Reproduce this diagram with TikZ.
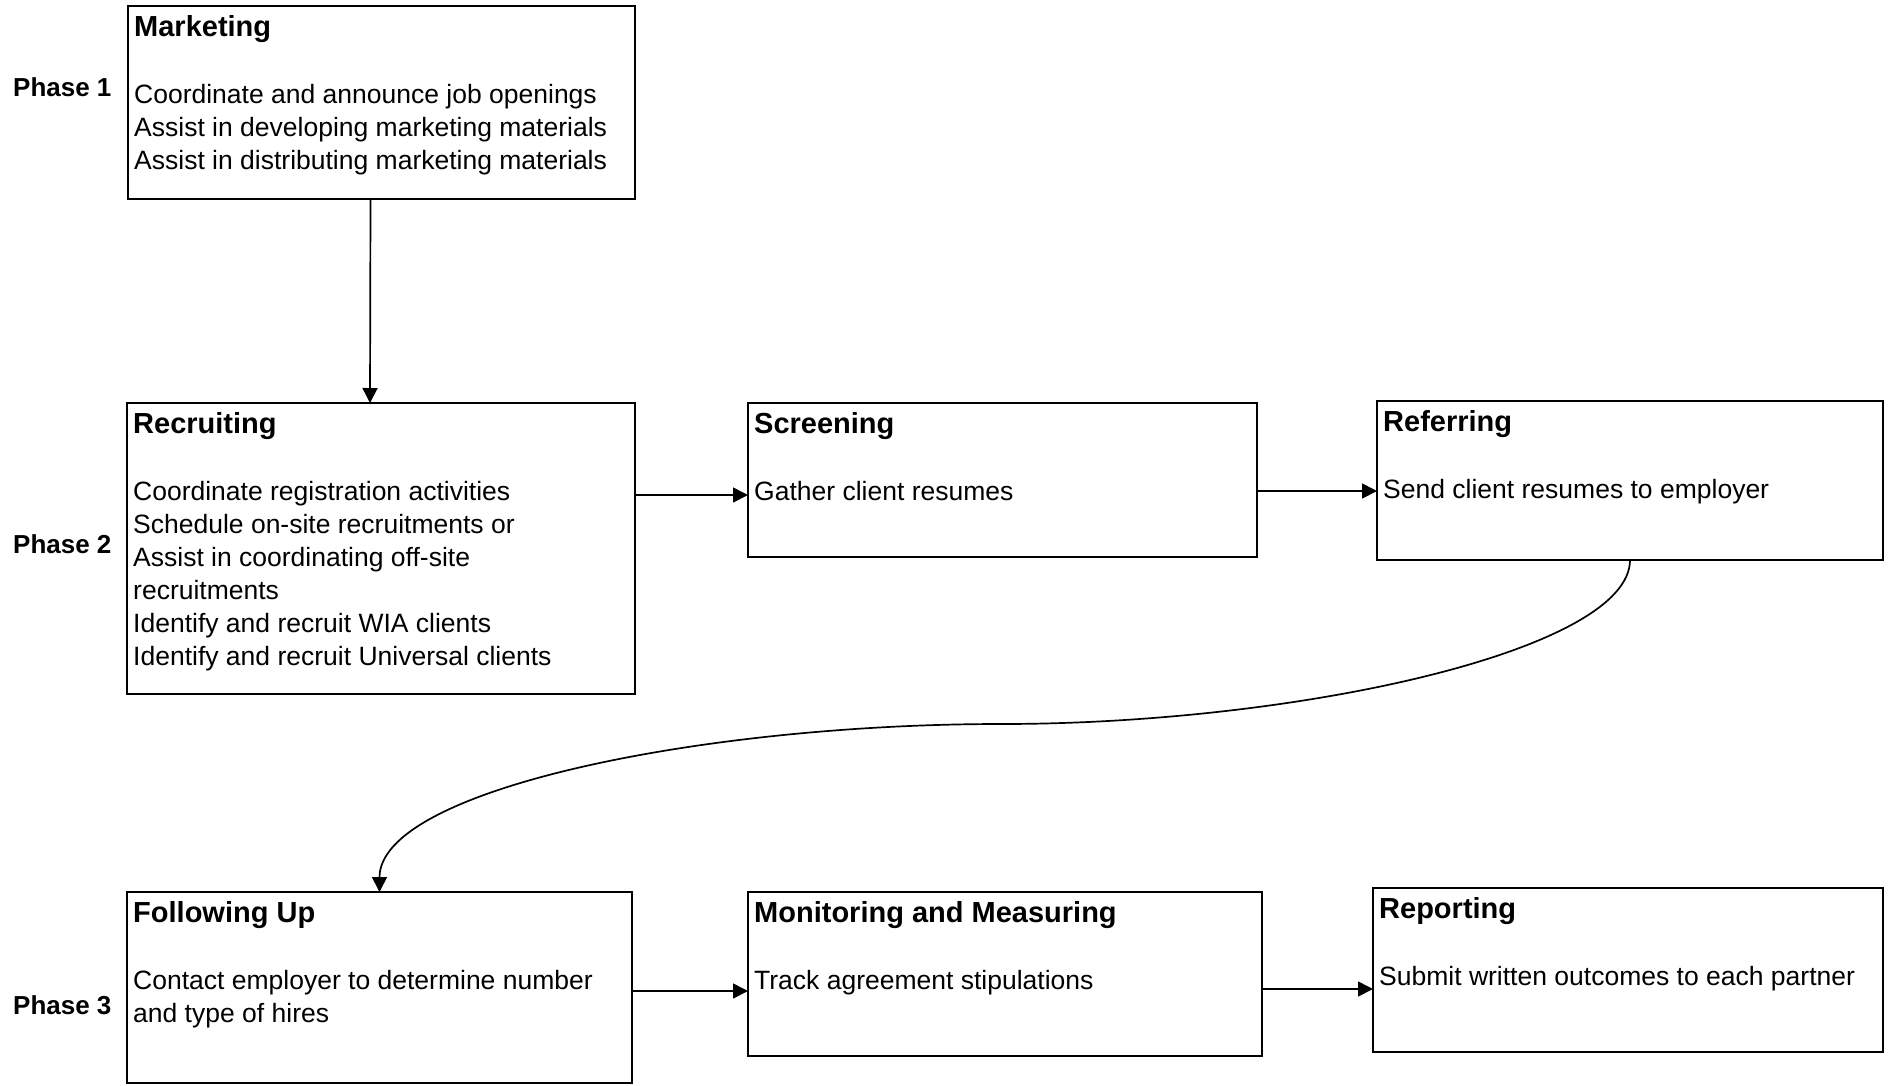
\documentclass[tikz,border=0pt]{standalone}
\usepackage{fontspec}
\setmainfont{Liberation Sans}
\usetikzlibrary{arrows.meta,calc}
\begin{document}
\begin{tikzpicture}[x=1pt,y=-1pt,
  box/.style={draw,line width=1.8pt,rectangle,inner sep=0pt,outer sep=0pt,anchor=north west},
  ttl/.style={anchor=base west,inner sep=0pt,font=\fontsize{29}{33}\selectfont\bfseries},
  body/.style={anchor=north west,inner sep=0pt,align=left,font=\fontsize{26.5}{33}\selectfont},
  phase/.style={anchor=base west,inner sep=0pt,font=\fontsize{26}{31}\selectfont\bfseries},
  conn/.style={line width=1.7pt,-{Triangle[length=15pt,width=15pt]}}]
\useasboundingbox (0,0) rectangle (1892,1085);

% boxes
\node[box,minimum width=507pt,minimum height=193pt] (mk) at (128,6) {};
\node[box,minimum width=508pt,minimum height=291pt] (rc) at (127,403) {};
\node[box,minimum width=509pt,minimum height=154pt] (sc) at (748,403) {};
\node[box,minimum width=506pt,minimum height=159pt] (rf) at (1377,401) {};
\node[box,minimum width=505pt,minimum height=191pt] (fu) at (127,892) {};
\node[box,minimum width=514pt,minimum height=164pt] (mo) at (748,892) {};
\node[box,minimum width=510pt,minimum height=164pt] (rp) at (1373,888) {};

% titles
\node[ttl] (mkt) at ($(mk.north west)+(6,30)$) {Marketing};
\node[ttl] (rct) at ($(rc.north west)+(6,30)$) {Recruiting};
\node[ttl] (sct) at ($(sc.north west)+(6,30)$) {Screening};
\node[ttl] (rft) at ($(rf.north west)+(6,30)$) {Referring};
\node[ttl] (fut) at ($(fu.north west)+(6,30)$) {Following Up};
\node[ttl] (mot) at ($(mo.north west)+(6,30)$) {Monitoring and Measuring};
\node[ttl] (rpt) at ($(rp.north west)+(6,30)$) {Reporting};

% bodies
\node[body] (mkb) at ($(mk.north west)+(6,74)$) {\strut Coordinate and announce job openings\\Assist in developing marketing materials\\Assist in distributing marketing materials};
\node[body] (rcb) at ($(rc.north west)+(6,74)$) {\strut Coordinate registration activities\\Schedule on-site recruitments or\\Assist in coordinating off-site\\recruitments\\Identify and recruit WIA clients\\Identify and recruit Universal clients};
\node[body] (scb) at ($(sc.north west)+(6,74)$) {\strut Gather client resumes};
\node[body] (rfb) at ($(rf.north west)+(6,74)$) {\strut Send client resumes to employer};
\node[body] (fub) at ($(fu.north west)+(6,74)$) {\strut Contact employer to determine number\\and type of hires};
\node[body] (mob) at ($(mo.north west)+(6,74)$) {\strut Track agreement stipulations};
\node[body] (rpb) at ($(rp.north west)+(6,74)$) {\strut Submit written outcomes to each partner};

% phases
\node[phase] (p1) at (13,96) {Phase 1};
\node[phase] (p2) at (13,553) {Phase 2};
\node[phase] (p3) at (13,1014) {Phase 3};

% connectors
\draw[conn] ($(mk.south)+(-11,0)$) -- ($(rc.north)+(-11,0)$);
\draw[conn] (rc.east |- 0,495) -- (sc.west |- 0,495);
\draw[conn] (sc.east |- 0,491) -- (rf.west |- 0,491);
\draw[conn] (fu.east |- 0,991) -- (mo.west |- 0,991);
\draw[conn] (mo.east |- 0,989) -- (rp.west |- 0,989);
\coordinate (mid) at (1001,724);
\draw[conn] (rf.south) .. controls ($(rf.south)+(0,90)$) and (1300,724) .. (mid)
  .. controls (700,724) and ($(fu.north)+(0,-102)$) .. (fu.north);
\end{tikzpicture}
\end{document}
